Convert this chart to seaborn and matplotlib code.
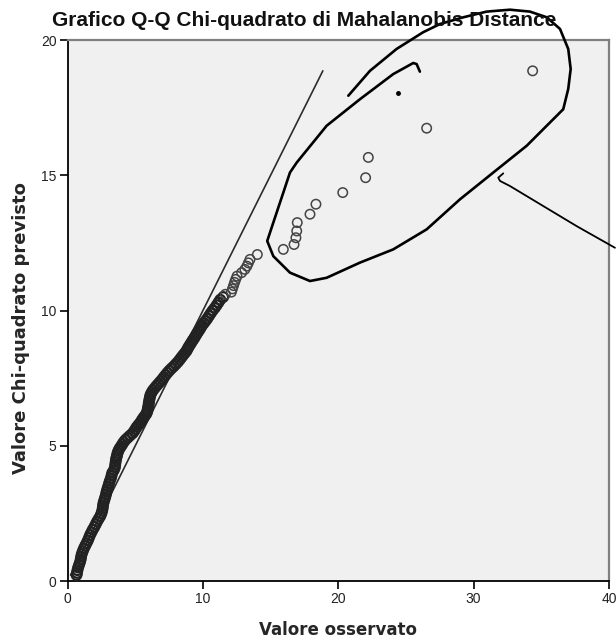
import matplotlib
matplotlib.use("Agg")
import matplotlib.pyplot as plt
import seaborn as sns
import pandas as pd

# valori osservati (distanza di Mahalanobis) e quantili chi-quadrato previsti
observed = [
    0.66, 0.70, 0.73, 0.78, 0.85, 0.92, 0.97, 1.00, 1.05, 1.12, 1.20, 1.30, 1.40, 1.50, 1.58, 1.66, 1.76, 1.86, 1.98,
    2.08, 2.18, 2.30, 2.42, 2.50, 2.56, 2.60, 2.62, 2.66, 2.72, 2.78, 2.84, 2.88, 2.94, 3.00, 3.06, 3.12, 3.20, 3.25,
    3.30, 3.42, 3.50, 3.52, 3.55,
    3.58, 3.62, 3.66, 3.70, 3.76, 3.84, 3.95, 4.05, 4.15, 4.28, 4.45, 4.62, 4.80, 4.92, 5.02, 5.12, 5.25, 5.38, 5.48, 5.58,
    5.70, 5.82, 5.88, 5.92, 5.95, 5.98, 6.00, 6.03, 6.06, 6.09, 6.14, 6.22, 6.32, 6.45, 6.58, 6.72, 6.86, 7.00, 7.12,
    7.25, 7.38, 7.52, 7.68, 7.85, 8.00,
    8.15, 8.28, 8.40, 8.52, 8.65, 8.78, 8.86, 8.95, 9.05, 9.15, 9.25, 9.36, 9.45, 9.55, 9.65, 9.76, 9.85, 9.95, 10.08,
    10.20, 10.32, 10.45, 10.58, 10.72, 10.88, 11.02, 11.15, 11.28, 11.50,
    11.66, 12.10, 12.18, 12.26, 12.34, 12.42, 12.52, 12.86, 13.10, 13.25, 13.36, 13.48, 14.02,
    15.94, 16.73, 16.87, 16.93, 16.97, 17.91, 18.35, 20.33, 22.02, 22.22, 26.53, 34.36,
]
expected = [
    0.22, 0.30, 0.40, 0.50, 0.60, 0.70, 0.80, 0.90, 1.00, 1.10, 1.20, 1.30, 1.40, 1.50, 1.60, 1.70, 1.80, 1.90, 2.00,
    2.10, 2.20, 2.30, 2.40, 2.50, 2.60, 2.70, 2.80, 2.90, 3.00, 3.10, 3.20, 3.30, 3.40, 3.50, 3.60, 3.70, 3.80, 3.90,
    4.00, 4.10, 4.20, 4.30, 4.40,
    4.50, 4.58, 4.66, 4.74, 4.82, 4.90, 4.98, 5.06, 5.14, 5.22, 5.30, 5.38, 5.46, 5.54, 5.62, 5.70, 5.78, 5.86, 5.94, 6.02,
    6.10, 6.18, 6.26, 6.34, 6.42, 6.50, 6.58, 6.66, 6.74, 6.82, 6.90, 6.98, 7.06, 7.14, 7.22, 7.30, 7.38, 7.46, 7.54,
    7.62, 7.70, 7.78, 7.86, 7.94, 8.02,
    8.10, 8.18, 8.26, 8.34, 8.42, 8.50, 8.58, 8.66, 8.74, 8.82, 8.90, 8.98, 9.06, 9.14, 9.22, 9.30, 9.38, 9.46, 9.54,
    9.62, 9.70, 9.80, 9.90, 10.00, 10.10, 10.20, 10.30, 10.40, 10.50,
    10.60, 10.68, 10.80, 10.92, 11.04, 11.15, 11.27, 11.40, 11.52, 11.64, 11.76, 11.89, 12.07,
    12.26, 12.44, 12.69, 12.94, 13.25, 13.56, 13.93, 14.36, 14.91, 15.66, 16.74, 18.86,
]

x_ticks = [0, 10, 20, 30, 40]
y_ticks = [0, 5, 10, 15, 20]

# annotazione a mano (cerchio attorno agli outlier + freccia)
loop_x = [20.74, 22.34, 24.31, 26.28, 27.51, 29.24, 30.96, 32.69, 34.16, 35.40, 36.38, 36.99, 37.17, 36.99, 36.62,
          35.64, 33.92, 31.45, 28.99, 26.53, 24.06, 21.60, 19.14, 17.91, 16.43, 15.20, 14.75, 15.20, 15.94, 16.43,
          16.93, 19.14, 21.60, 24.06, 25.54, 25.79, 26.03]
loop_y = [17.94, 18.86, 19.67, 20.29, 20.59, 20.84, 21.05, 21.12, 21.05, 20.84, 20.41, 19.67, 18.93, 18.19, 17.44,
          16.95, 16.09, 15.10, 14.11, 13.00, 12.26, 11.77, 11.21, 11.09, 11.40, 12.01, 12.57, 13.25, 14.36, 15.10,
          15.47, 16.83, 17.81, 18.74, 19.15, 19.11, 18.83]
pointer_x = [32.19, 31.82, 31.95, 32.69, 35.15, 37.61, 40.44]
pointer_y = [15.07, 14.91, 14.79, 14.60, 13.86, 13.12, 12.32]
dot_x = [24.39]
dot_y = [18.03]

df = pd.DataFrame({"Osservato": observed, "Previsto": expected})
dense = df[df["Previsto"] <= 10.5]
sparse = df[df["Previsto"] > 10.5]

sns.set_style("white")
plt.rcParams["font.family"] = ["Liberation Sans", "DejaVu Sans"]

fig = plt.figure(figsize=(6.16, 6.38), dpi=100)
ax = fig.add_axes([0.1097, 0.0893, 0.8789, 0.848])
ax.set_facecolor("#f0f0f0")

# linea di riferimento y = x
ref = pd.DataFrame({"x": [min(expected), max(expected)], "y": [min(expected), max(expected)]})
sns.lineplot(data=ref, x="x", y="y", ax=ax, color="#2b2b2b", linewidth=1.2, zorder=2)

sns.scatterplot(data=dense, x="Osservato", y="Previsto", ax=ax, s=48, marker="o",
                facecolor="none", edgecolor="#222222", linewidth=1.6, zorder=3)
sns.scatterplot(data=sparse, x="Osservato", y="Previsto", ax=ax, s=46, marker="o",
                facecolor="none", edgecolor="#444444", linewidth=1.1, zorder=3)

ax.plot(loop_x, loop_y, color="black", linewidth=1.9, clip_on=False, zorder=5,
        solid_capstyle="round", solid_joinstyle="round")
ax.plot(pointer_x, pointer_y, color="black", linewidth=1.3, clip_on=False, zorder=5)
ax.plot(dot_x, dot_y, "o", color="black", markersize=2.5, clip_on=False, zorder=5)

ax.set_xlim(0, 40)
ax.set_ylim(0, 20)
ax.set_xticks(x_ticks)
ax.set_yticks(y_ticks)
ax.tick_params(axis="both", direction="out", length=6, width=1.2, color="black",
               labelsize=10, labelcolor="#222222", pad=2, bottom=True, left=True)

for side in ["left", "bottom"]:
    ax.spines[side].set_color("black")
    ax.spines[side].set_linewidth(1.3)
for side in ["top", "right"]:
    ax.spines[side].set_visible(True)
    ax.spines[side].set_color("#808080")
    ax.spines[side].set_linewidth(1.6)

ax.set_xlabel("")
ax.set_ylabel("")
fig.text(338 / 616, 1 - 630 / 638, "Valore osservato", ha="center", va="center",
         fontsize=12, fontweight="bold", family=["DejaVu Sans"])
fig.text(21 / 616, 1 - 328 / 638, "Valore Chi-quadrato previsto", ha="center", va="center",
         rotation=90, fontsize=13, fontweight="bold", family=["DejaVu Sans"])
fig.text(304 / 616, 1 - 21 / 638, "Grafico Q-Q Chi-quadrato di Mahalanobis Distance",
         ha="center", va="center", fontsize=15, fontweight="bold", color="#111111")

fig.savefig("out.png", dpi=100)
